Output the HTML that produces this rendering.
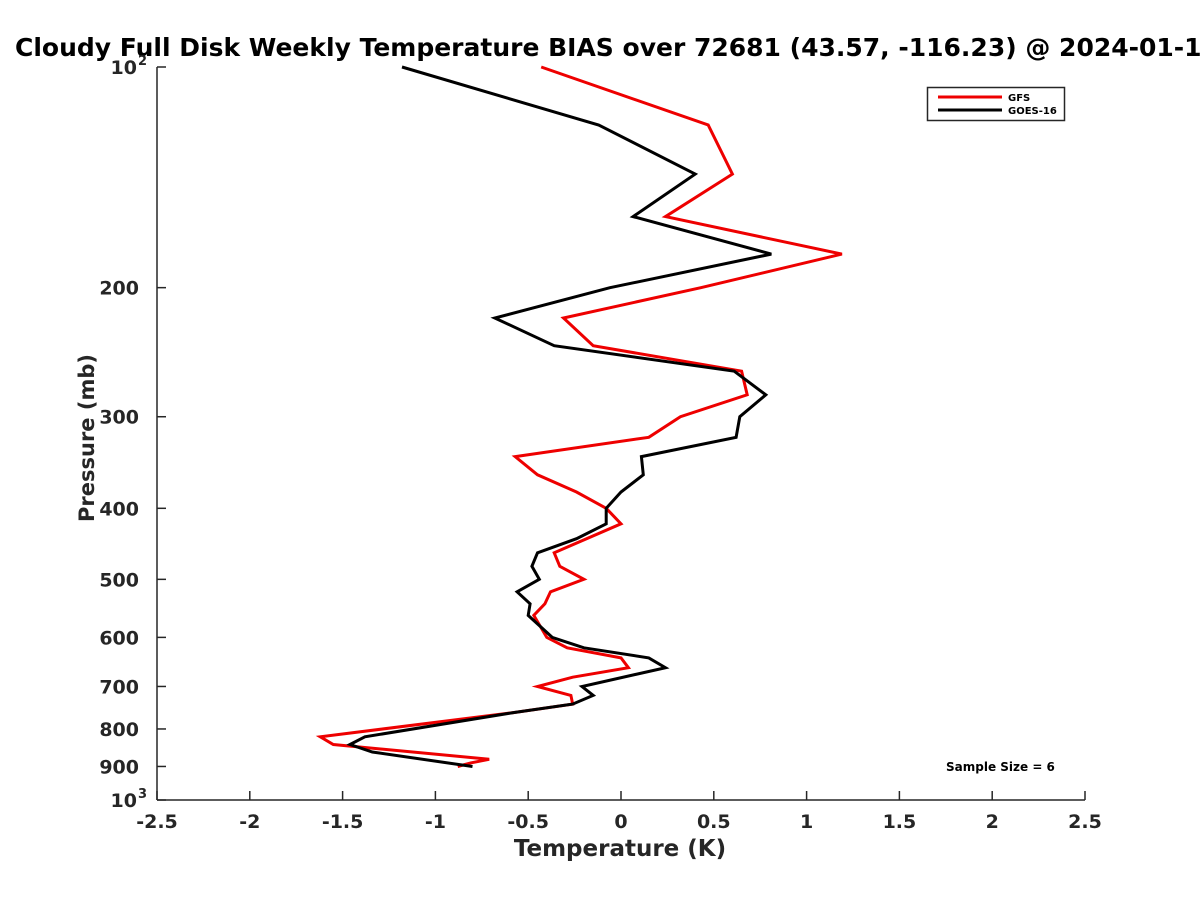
<!DOCTYPE html>
<html><head><meta charset="utf-8"><style>
body{margin:0;background:#fff}
svg{display:block;font-family:"DejaVu Sans","Liberation Sans",sans-serif}
</style></head><body>
<svg width="1200" height="900" viewBox="0 0 1200 900" xmlns="http://www.w3.org/2000/svg">
<rect width="1200" height="900" fill="#fff"/>
<text x="15" y="56" font-size="25" font-weight="bold" fill="#000">Cloudy Full Disk Weekly Temperature BIAS over 72681 (43.57, -116.23) @ 2024-01-1</text>
<g id="axes"></g>
<g id="series"></g>
<text x="620" y="856" font-size="23" font-weight="bold" fill="#262626" text-anchor="middle">Temperature (K)</text>
<text transform="translate(94,438) rotate(-90)" font-size="21" font-weight="bold" fill="#262626" text-anchor="middle">Pressure (mb)</text>
<g>
<rect x="927.5" y="87.5" width="137" height="33" fill="#fff" stroke="#262626" stroke-width="1.5"/>
<line x1="938" y1="97" x2="1002" y2="97" stroke="#e00" stroke-width="3"/>
<text x="1008" y="101" font-size="10" font-weight="bold" fill="#000">GFS</text>
<line x1="938" y1="110" x2="1002" y2="110" stroke="#000" stroke-width="3"/>
<text x="1008" y="114" font-size="10" font-weight="bold" fill="#000">GOES-16</text>
</g>
<text x="946" y="771" font-size="12" font-weight="bold" fill="#000">Sample Size = 6</text>
</svg>
<script>
const xTicks = [-2.5,-2,-1.5,-1,-0.5,0,0.5,1,1.5,2,2.5];
const xTickLabels = ["-2.5","-2","-1.5","-1","-0.5","0","0.5","1","1.5","2","2.5"];
const yTicks = [200,300,400,500,600,700,800,900];
const gfsP = [100,120,140,160,180,200,220,240,260,280,300,320,340,360,380,400,420,460,480,500,520,540,560,600,620,640,660,680,700,720,740,760,820,840,880,890,900];
const gfsT = [-0.43,0.47,0.60,0.24,1.19,0.43,-0.31,-0.15,0.65,0.68,0.32,0.15,-0.57,-0.45,-0.24,-0.08,0.0,-0.36,-0.33,-0.2,-0.38,-0.41,-0.47,-0.40,-0.29,0.0,0.04,-0.26,-0.45,-0.27,-0.26,-0.58,-1.62,-1.55,-0.71,-0.81,-0.88];
const goesP = [100,120,140,160,180,200,220,240,260,280,300,320,340,360,380,400,420,440,460,480,500,520,540,560,600,620,640,660,700,720,740,760,820,840,860,900];
const goesT = [-1.18,-0.12,0.40,0.065,0.81,-0.06,-0.68,-0.36,0.61,0.78,0.64,0.62,0.11,0.12,0.0,-0.08,-0.08,-0.24,-0.45,-0.48,-0.44,-0.56,-0.49,-0.50,-0.37,-0.2,0.15,0.24,-0.21,-0.15,-0.26,-0.58,-1.38,-1.46,-1.34,-0.80];

const X0=157,X1=1085,Y0=67,Y1=800;
function xs(t){return X0+(t+2.5)/5*(X1-X0);}
function ys(p){return Y0+Math.log10(p/100)*(Y1-Y0);}
const NS="http://www.w3.org/2000/svg";
function mk(tag,attrs,parent){const e=document.createElementNS(NS,tag);for(const k in attrs)e.setAttribute(k,attrs[k]);parent.appendChild(e);return e;}
const ax=document.getElementById('axes');
const yl=mk('line',{x1:X0,y1:Y0,x2:X0,y2:Y1,stroke:'#262626','stroke-width':1.5},ax);


const xl=mk('line',{x1:X0,y1:Y1,x2:X1,y2:Y1,stroke:'#262626','stroke-width':1.5},ax);


xTicks.forEach((t,i)=>{
  const x=xs(t);
  const tk=mk('line',{x1:x,y1:Y1,x2:x,y2:Y1-9,stroke:'#262626','stroke-width':1.5},ax);
  
  
  const tx=mk('text',{x:x,y:Y1+28,'font-size':19,'font-weight':'bold',fill:'#262626','text-anchor':'middle'},ax);
  tx.textContent=xTickLabels[i];
  
  
});
function yTick(p,label,sup){
  const y=ys(p);
  const tk=mk('line',{x1:X0,y1:y,x2:X0+9,y2:y,stroke:'#262626','stroke-width':1.5},ax);
  
  
  const tx=mk('text',{x:sup?X0-20:X0-18,y:y+7,'font-size':19,'font-weight':'bold',fill:'#262626','text-anchor':'end'},ax);
  tx.textContent=label;
  
  
  if(sup){
    const s=mk('text',{x:X0-19,y:y-2,'font-size':13,'font-weight':'bold',fill:'#262626','text-anchor':'start'},ax);
    s.textContent=sup;
    
    
  }
}
yTick(100,'10','2');
yTicks.forEach(p=>yTick(p,String(p)));
yTick(1000,'10','3');
const sg=document.getElementById('series');
function line(P,T,color,name){
  const pts=P.map((p,i)=>xs(T[i]).toFixed(1)+','+ys(p).toFixed(1)).join(' ');
  const pl=mk('polyline',{points:pts,fill:'none',stroke:color,'stroke-width':3,'stroke-linejoin':'miter'},sg);
  
  
}
line(gfsP,gfsT,'#e00','gfs-line');
line(goesP,goesT,'#000','goes16-line');
</script>
</body></html>
